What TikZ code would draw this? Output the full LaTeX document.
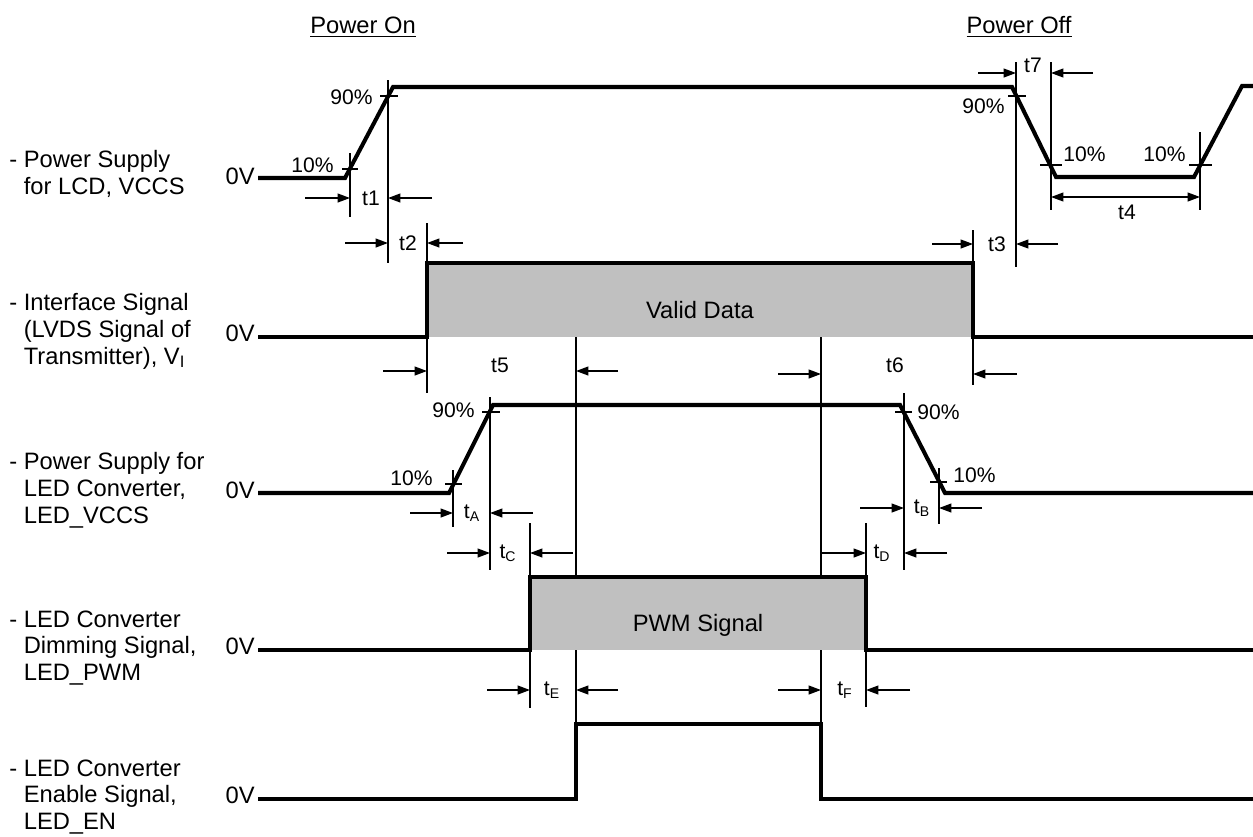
\documentclass[tikz,border=0pt]{standalone}
\usepackage{fontspec}
\setmainfont{Liberation Sans}
\usepackage{tikz}
\usetikzlibrary{arrows.meta}
\definecolor{datagray}{HTML}{C0C0C0}
\newcommand{\lblfont}{\fontsize{13.5}{15.3}\selectfont}
\newcommand{\tfont}{\fontsize{12}{14}\selectfont}

\begin{document}
\begin{tikzpicture}[
			x=0.02cm, y=-0.02cm,
			sig/.style={line width=2.3pt},
			guide/.style={line width=0.85pt},
			dim/.style={guide, -{Triangle[length=7pt,width=5pt]}},
			dimboth/.style={guide, {Triangle[length=7pt,width=5pt]}-{Triangle[length=7pt,width=5pt]}},
			lbl/.style={font=\lblfont, align=left, inner sep=0pt},
			zero/.style={font=\lblfont, inner sep=0pt, anchor=east},
			pct/.style={font=\tfont, inner sep=0pt},
			tlbl/.style={font=\tfont, inner sep=0pt}
		]

		\useasboundingbox (0,0) rectangle (1253,836);

		% headers
		\node[lbl] (pon) at (363,27) {\underline{Power On}};
		\node[lbl] (poff) at (1019,27) {\underline{Power Off}};

		% signal names
		\node[lbl, anchor=west] (vccs) at (9,174) {- Power Supply\\\hphantom{- }for LCD, VCCS};
		\node[lbl, anchor=west] (lvds) at (9,331) {- Interface Signal\\\hphantom{- }(LVDS Signal of\\\hphantom{- }Transmitter), V\textsubscript{I}};
		\node[lbl, anchor=west] (ledvccs) at (9,490) {- Power Supply for\\\hphantom{- }LED Converter,\\\hphantom{- }LED\_VCCS};
		\node[lbl, anchor=west] (ledpwm) at (9,648) {- LED Converter\\\hphantom{- }Dimming Signal,\\\hphantom{- }LED\_PWM};
		\node[lbl, anchor=west] (leden) at (9,797) {- LED Converter\\\hphantom{- }Enable Signal,\\\hphantom{- }LED\_EN};

		\foreach \y/\n in {176/za,333/zb,490/zc,646/zd,795/ze}
			\node[zero] (\n) at (255,\y) {0V};

		% VCCS
		\draw[sig] (258,178) -- (345,178) -- (393,87) -- (1012,87) -- (1056,177) -- (1194,177) -- (1242,86) -- (1253,86);
		\draw[guide] (350,153) -- (350,217);
		\draw[guide] (342,169) -- (358,169);
		\draw[guide] (388,80) -- (388,263);
		\draw[guide] (380,96) -- (398,96);
		\node[pct, anchor=east] (r10) at (334,165) {10\%};
		\node[pct, anchor=east] (r90) at (373,97) {90\%};
		\draw[dim] (305,198) -- (350,198);
		\node[tlbl] (t1) at (371,198) {t1};
		\draw[dim] (432,198) -- (388,198);
		\draw[dim] (345,243) -- (388,243);
		\node[tlbl] (t2) at (408,243) {t2};
		\draw[dim] (463,243) -- (427,243);

		\draw[guide] (1016,62) -- (1016,267);
		\draw[guide] (1008,96) -- (1026,96);
		\node[pct, anchor=east] (f90) at (1005,106) {90\%};
		\draw[dim] (978,73) -- (1016,73);
		\node[tlbl] (t7) at (1033,65) {t7};
		\draw[dim] (1093,73) -- (1051,73);
		\draw[guide] (1051,62) -- (1051,210);
		\draw[guide] (1040,165) -- (1062,165);
		\node[pct, anchor=west] (f10) at (1063,154) {10\%};
		\draw[guide] (1200,132) -- (1200,210);
		\draw[guide] (1189,165) -- (1212,165);
		\node[pct, anchor=east] (s10) at (1186,154) {10\%};
		\draw[dimboth] (1051,197) -- (1200,197);
		\node[tlbl] (t4) at (1127,212) {t4};
		\draw[dim] (932,244) -- (973,244);
		\node[tlbl] (t3) at (997,244) {t3};
		\draw[dim] (1058,244) -- (1016,244);

		% interface signal
		\fill[datagray] (427,263) rectangle (973,337);
		\draw[sig] (258,337) -- (427,337) -- (427,263) -- (973,263) -- (973,337) -- (1253,337);
		\node[lbl] (valid) at (700,310) {Valid Data};
		\draw[guide] (427,223) -- (427,393);
		\draw[guide] (973,230) -- (973,385);
		\draw[guide] (576,337) -- (576,724);
		\draw[guide] (821,337) -- (821,724);
		\draw[dim] (383,371) -- (427,371);
		\node[tlbl] (t5) at (500,365) {t5};
		\draw[dim] (618,371) -- (576,371);
		\draw[dim] (778,374) -- (821,374);
		\node[tlbl] (t6) at (895,365) {t6};
		\draw[dim] (1017,374) -- (973,374);

		% LED_VCCS
		\draw[sig] (258,493) -- (449,493) -- (493,405) -- (900,405) -- (945,493) -- (1253,493);
		\draw[guide] (490,397) -- (490,570);
		\draw[guide] (482,412) -- (500,412);
		\node[pct, anchor=east] (a90) at (475,410) {90\%};
		\draw[guide] (453,470) -- (453,527);
		\draw[guide] (445,484) -- (462,484);
		\node[pct, anchor=east] (a10) at (433,478) {10\%};
		\draw[dim] (410,513) -- (453,513);
		\node[tlbl] (tA) at (472,513) {t\textsubscript{A}};
		\draw[dim] (533,513) -- (490,513);
		\draw[guide] (904,393) -- (904,570);
		\draw[guide] (895,412) -- (912,412);
		\node[pct, anchor=west] (b90) at (917,412) {90\%};
		\draw[guide] (939,468) -- (939,524);
		\draw[guide] (930,482) -- (947,482);
		\node[pct, anchor=west] (b10) at (953,475) {10\%};
		\draw[dim] (860,508) -- (904,508);
		\node[tlbl] (tB) at (922,508) {t\textsubscript{B}};
		\draw[dim] (982,508) -- (939,508);
		\draw[dim] (447,553) -- (490,553);
		\node[tlbl] (tC) at (508,553) {t\textsubscript{C}};
		\draw[dim] (573,553) -- (530,553);
		\draw[dim] (821,553) -- (866,553);
		\node[tlbl] (tD) at (882,553) {t\textsubscript{D}};
		\draw[dim] (947,553) -- (904,553);

		% LED_PWM
		\fill[datagray] (530,577) rectangle (866,650);
		\draw[sig] (258,650) -- (530,650) -- (530,577) -- (866,577) -- (866,650) -- (1253,650);
		\node[lbl] (pwm) at (698,625) {PWM Signal};
		\draw[guide] (530,523) -- (530,708);
		\draw[guide] (866,523) -- (866,707);
		\draw[dim] (487,690) -- (530,690);
		\node[tlbl] (tE) at (552,690) {t\textsubscript{E}};
		\draw[dim] (618,690) -- (576,690);
		\draw[dim] (778,690) -- (821,690);
		\node[tlbl] (tF) at (845,690) {t\textsubscript{F}};
		\draw[dim] (910,690) -- (866,690);

		% LED_EN
		\draw[sig] (258,799) -- (576,799) -- (576,724) -- (821,724) -- (821,799) -- (1253,799);

	\end{tikzpicture}
\end{document}
